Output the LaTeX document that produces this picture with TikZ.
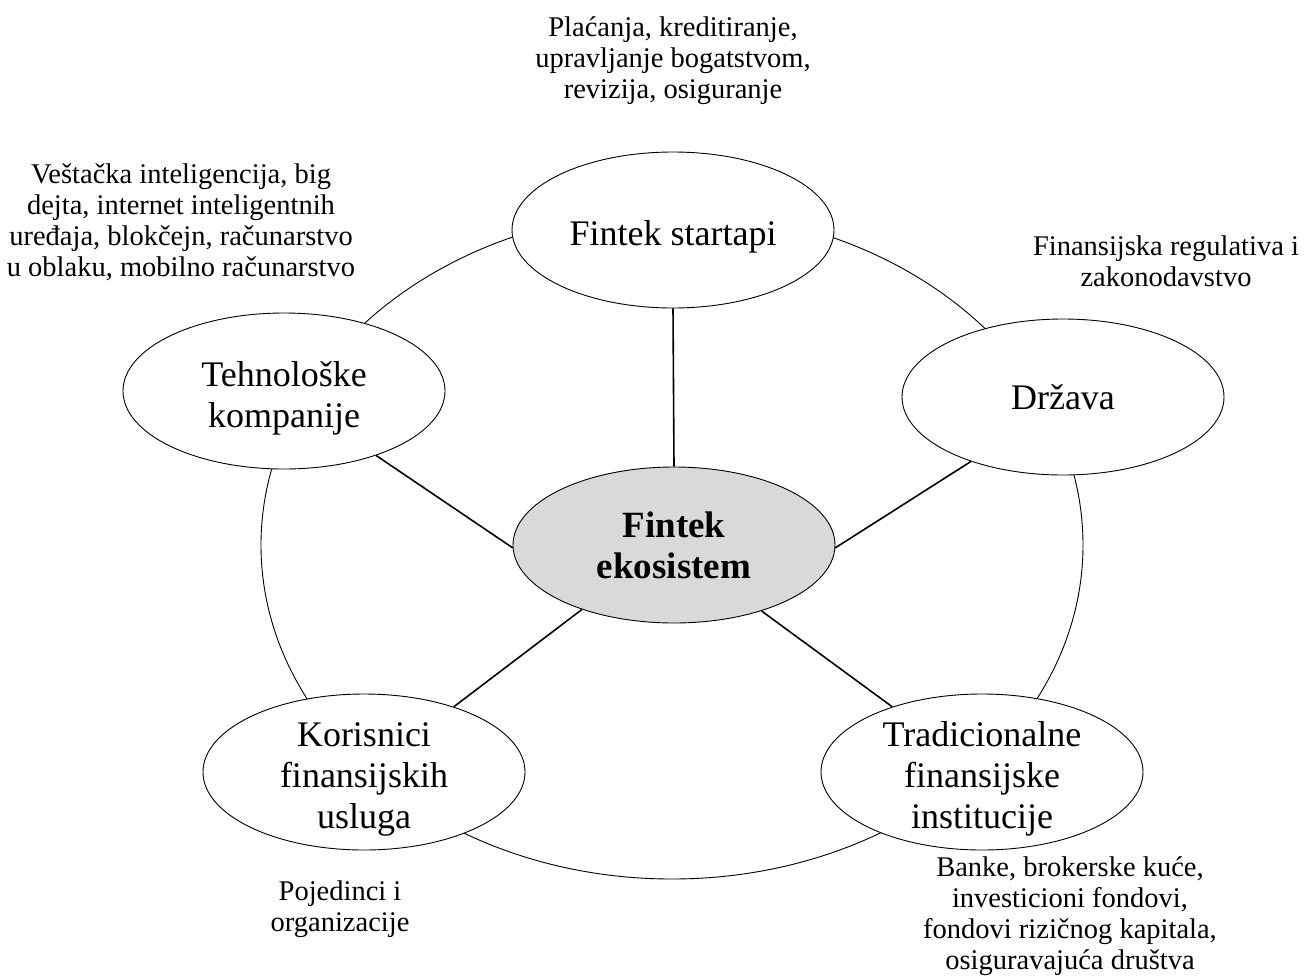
\documentclass[tikz,border=0pt]{standalone}
\usepackage{fontspec}
\setmainfont{Liberation Serif}
\usetikzlibrary{shapes.geometric}

\tikzset{
  ring/.style={ellipse, draw=black, line width=0.9pt, minimum width=822pt, minimum height=668pt, inner sep=0pt},
  bubble/.style={ellipse, draw=black, line width=0.9pt, fill=white, minimum width=322pt, minimum height=156pt, inner sep=0pt},
  hub/.style={bubble, fill=black!15},
  lbl/.style={align=center, inner sep=0pt, font=\fontsize{36}{41}\selectfont},
  hublbl/.style={align=center, inner sep=0pt, font=\fontsize{37}{41}\selectfont\bfseries},
  note/.style={align=center, inner sep=0pt, font=\fontsize{28.5}{31}\selectfont},
  link/.style={draw=black, line width=1.6pt}
}

\begin{document}
\begin{tikzpicture}[x=1pt, y=-1pt]
  \useasboundingbox (0,0) rectangle (1315,978);

  % outer ring linking the actors
  \node[ring] (ring) at (672,545) {};

  % actors around the ring
  \node[bubble] (start) at (673,230) {};
  \node[bubble] (teh)   at (284,391) {};
  \node[bubble] (drz)   at (1063,397) {};
  \node[bubble] (kor)   at (364,772) {};
  \node[bubble] (trad)  at (982,772) {};
  \node[hub]    (hub)   at (674,545) {};

  % spokes
  \draw[link] (start.south) -- (hub.north);
  \draw[link] (teh.-35) -- (hub.181);
  \draw[link] (drz.215) -- (hub.-1);
  \draw[link] (kor.36) -- (hub.215);
  \draw[link] (trad.144) -- (hub.-37);

  % labels inside the ellipses
  \node[lbl, yshift=-7pt] (startT) at (start) {Fintek startapi};
  \node[lbl, yshift=-7pt] (tehT)   at (teh)   {Tehnološke\\kompanije};
  \node[lbl]              (drzT)   at (drz)   {Država};
  \node[lbl, yshift=-7pt] (korT)   at (kor)   {Korisnici\\finansijskih\\usluga};
  \node[lbl, yshift=-7pt] (tradT)  at (trad)  {Tradicionalne\\finansijske\\institucije};
  \node[hublbl] (hubT) at (hub)  {Fintek\\ekosistem};

  % notes beside the actors
  \node[note] (nStart) at (673,61)
    {Plaćanja, kreditiranje,\\upravljanje bogatstvom,\\revizija, osiguranje};
  \node[note] (nTeh) at (181,222)
    {Veštačka inteligencija, big\\dejta, internet inteligentnih\\uređaja, blokčejn, računarstvo\\u oblaku, mobilno računarstvo};
  \node[note] (nDrz) at (1166,261)
    {Finansijska regulativa i\\zakonodavstvo};
  \node[note] (nKor) at (340,909)
    {Pojedinci i\\organizacije};
  \node[note] (nTrad) at (1070,916)
    {Banke, brokerske kuće,\\investicioni fondovi,\\fondovi rizičnog kapitala,\\osiguravajuća društva};
\end{tikzpicture}
\end{document}
